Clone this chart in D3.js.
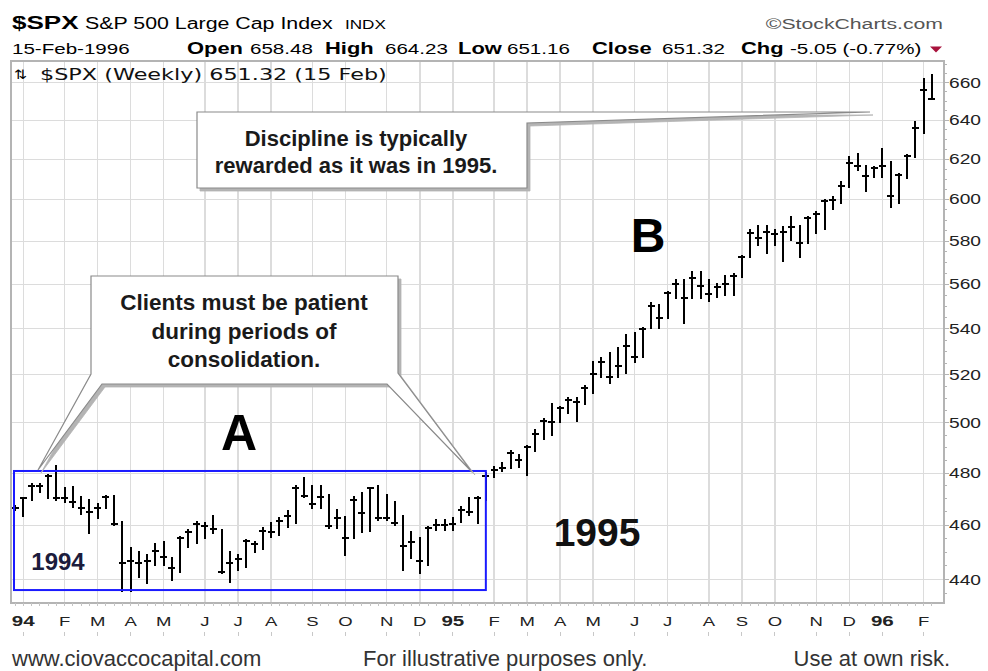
<!DOCTYPE html>
<html>
<head>
<meta charset="utf-8">
<script src="https://cdn.jsdelivr.net/npm/d3@7"></script>
<style>
  html, body { margin: 0; padding: 0; background: #fff; }
  svg { display: block; }
  text { font-family: "Liberation Sans", Arial, sans-serif; }
</style>
</head>
<body>
<div id="chart"></div>
<script>
// weekly $SPX bars, week of 27-Dec-1993 .. week of 12-Feb-1996
const highs = [
  467.3, 470.5, 475.7, 475.7, 479.4, 482.9, 474.1, 474.5, 470.8, 469.5,
  468.2, 471.2, 471.2, 461.3, 451.4, 450.2, 448.9, 452.9, 453.6, 447.7,
  455.7, 458.2, 461.3, 460.7, 463.6, 458.2, 450.2, 448.9, 454.5, 453.6,
  459.1, 460.7, 462.6, 465.3, 474.8, 477.9, 474.8, 474.8, 471.5, 465.8,
  463.2, 470.8, 472.1, 474.3, 474.8, 471.5, 468.7, 463.6, 457.6, 455.1,
  459.5, 462.0, 462.0, 462.6, 467.0, 470.2, 470.8, 480.0, 482.5, 483.8,
  488.8, 487.1, 490.7, 497.3, 501.5, 507.8, 506.7, 510.2, 510.2, 515.3,
  525.6, 527.1, 529.3, 531.5, 537.2, 537.9, 540.1, 551.3, 550.5, 556.5,
  561.8, 561.8, 565.4, 565.4, 561.8, 560.0, 563.6, 564.8, 572.9, 585.2,
  587.3, 587.3, 585.2, 586.8, 591.3, 587.1, 591.3, 594.1, 599.8, 601.4,
  608.7, 620.9, 622.6, 616.5, 615.9, 625.0, 618.7, 612.5, 622.0, 639.2,
  661.8, 664.23
];
const lows = [
  465.8, 463.6, 469.5, 472.7, 470.2, 469.5, 468.9, 467.0, 464.1, 457.0,
  462.6, 466.4, 460.1, 436.1, 436.1, 441.1, 438.7, 445.3, 445.3, 439.9,
  442.9, 452.0, 453.2, 455.1, 457.0, 442.3, 439.3, 443.5, 444.7, 450.2,
  451.2, 455.7, 456.3, 459.5, 460.7, 470.8, 466.4, 466.4, 458.8, 458.8,
  448.9, 455.1, 457.6, 457.9, 462.0, 462.0, 460.1, 443.5, 447.7, 442.3,
  445.3, 458.2, 458.2, 458.2, 461.3, 463.8, 460.7, 469.5, 478.6, 480.6,
  482.0, 482.5, 479.2, 488.8, 493.4, 495.2, 500.2, 503.9, 501.0, 507.8,
  512.2, 519.2, 516.4, 519.2, 520.9, 525.6, 527.8, 540.1, 540.3, 544.5,
  553.5, 542.6, 553.5, 553.5, 552.5, 554.3, 555.0, 555.0, 563.3, 572.6,
  578.1, 574.5, 578.1, 570.8, 580.7, 572.6, 579.2, 583.9, 585.7, 595.2,
  598.5, 606.3, 614.5, 604.3, 610.9, 611.2, 596.5, 598.1, 610.7, 621.3,
  633.6, 651.16
];
const closes = [
  466.4, 470.2, 474.8, 474.8, 478.9, 470.2, 470.5, 468.9, 466.4, 464.9,
  466.6, 470.8, 460.3, 445.9, 446.7, 446.2, 446.7, 450.4, 448.3, 444.3,
  455.3, 457.6, 460.4, 459.8, 458.6, 442.7, 445.9, 447.5, 454.1, 452.9,
  457.9, 457.4, 461.6, 463.6, 474.3, 471.2, 467.9, 470.8, 459.7, 462.6,
  455.1, 469.5, 464.5, 474.1, 462.8, 462.8, 460.7, 452.4, 453.6, 446.7,
  459.1, 460.1, 460.1, 460.3, 465.8, 464.9, 470.5, 478.9, 481.0, 482.0,
  488.0, 485.1, 490.2, 495.6, 501.0, 500.6, 506.0, 509.5, 508.8, 514.3,
  520.3, 525.6, 519.2, 523.8, 532.5, 527.8, 539.8, 550.1, 544.5, 556.1,
  560.0, 553.5, 562.8, 559.3, 555.3, 558.8, 560.0, 563.6, 572.6, 583.6,
  581.2, 584.4, 583.3, 584.4, 586.8, 579.2, 590.8, 592.9, 599.4, 599.8,
  606.6, 617.9, 616.5, 611.5, 615.4, 616.5, 601.7, 612.0, 621.7, 635.8,
  656.0, 651.32
];

// first week of each month (bar index) and its label
const monthTicks = [1, 6, 10, 14, 18, 23, 27, 31, 36, 40, 45, 49, 53,
                    58, 62, 66, 70, 75, 79, 84, 88, 92, 97, 101, 105, 110];
const monthLabels = ["94", "F", "M", "A", "M", "J", "J", "A", "S", "O", "N", "D", "95",
                     "F", "M", "A", "M", "J", "J", "A", "S", "O", "N", "D", "96", "F"];
const priceTicks = [440, 460, 480, 500, 520, 540, 560, 580, 600, 620, 640, 660];

// consolidation box of 1994 (bar index range, price range)
const boxWeeks = [0, 57];
const boxPrices = [436.3, 480.8];

const W = 988, H = 671;
const SX = 1.37; // the stockcharts image is stretched sideways
const frame = { left: 11, right: 944, top: 61, bottom: 603 };

const svg = d3.select("#chart").append("svg")
  .attr("width", W).attr("height", H)
  .attr("viewBox", `0 0 ${W} ${H}`);

const x = d3.scaleLinear().domain([0, 111]).range([15, 931.9]);
const y = d3.scaleLog().domain([440, 660]).range([579.7, 82.6]);

function label(g, px, py, str, size, opt = {}) {
  return g.append("text")
    .attr("transform", `translate(${px},${py}) scale(${opt.sx ?? SX},1)`)
    .attr("text-anchor", opt.anchor || "start")
    .attr("font-size", size)
    .attr("font-weight", opt.weight || "normal")
    .style("font-family", opt.family || null)
    .attr("fill", opt.fill || "#000")
    .text(str);
}

// ---- header
const head = svg.append("g");
label(head, 12, 29, "$SPX", 19, { weight: "bold" });
label(head, 85, 29, "S&P 500 Large Cap Index", 15.6);
label(head, 345, 29, "INDX", 12.5);
label(head, 943, 29, "\u00A9StockCharts.com", 15.5, { anchor: "end", fill: "#555" });

const quote = [
  [12, "15-Feb-1996", false],
  [187, "Open", true], [250, "658.48", false],
  [325, "High", true], [385, "664.23", false],
  [458, "Low", true], [507, "651.16", false],
  [592, "Close", true], [662, "651.32", false],
  [741, "Chg", true], [790, "-5.05 (-0.77%)", false]
];
quote.forEach(([px, s, b]) => label(head, px, 53.5, s, b ? 16 : 15, { weight: b ? "bold" : "normal" }));
head.append("path").attr("d", "M930,46.5 L942,46.5 L936,52.5 Z").attr("fill", "#a8123c");

// ---- grid + frame
const grid = svg.append("g").attr("shape-rendering", "crispEdges");
grid.selectAll("line.v").data(monthTicks).join("line")
  .attr("class", "v")
  .attr("x1", d => x(d)).attr("x2", d => x(d))
  .attr("y1", frame.top).attr("y2", frame.bottom)
  .attr("stroke", "#dcdcdc").attr("stroke-width", 1.5);
grid.selectAll("line.h").data(priceTicks).join("line")
  .attr("class", "h")
  .attr("x1", frame.left).attr("x2", frame.right)
  .attr("y1", d => y(d)).attr("y2", d => y(d))
  .attr("stroke", "#dcdcdc").attr("stroke-width", 1);
grid.append("rect")
  .attr("x", frame.left).attr("y", frame.top)
  .attr("width", frame.right - frame.left).attr("height", frame.bottom - frame.top)
  .attr("fill", "none").attr("stroke", "#b4b4b4").attr("stroke-width", 1.5);

// right axis ticks + labels
const minor = d3.range(435, 671, 5);
grid.selectAll("line.ry").data(minor).join("line")
  .attr("class", "ry")
  .attr("x1", frame.right).attr("x2", d => frame.right + (d % 20 === 0 ? 5 : 3))
  .attr("y1", d => y(d)).attr("y2", d => y(d))
  .attr("stroke", "#b4b4b4");
const yAx = svg.append("g");
priceTicks.forEach(v => label(yAx, 949, y(v) + 5, String(v), 14, { fill: "#222" }));

// bottom axis ticks + labels
grid.selectAll("line.wk").data(d3.range(0, 112)).join("line")
  .attr("class", "wk")
  .attr("x1", d => x(d)).attr("x2", d => x(d))
  .attr("y1", frame.bottom).attr("y2", frame.bottom + 3)
  .attr("stroke", "#c4c4c4");
grid.selectAll("line.mk").data(monthTicks).join("line")
  .attr("class", "mk")
  .attr("x1", d => x(d)).attr("x2", d => x(d))
  .attr("y1", 632).attr("y2", 636)
  .attr("stroke", "#c8c8c8");
const xAx = svg.append("g");
monthTicks.forEach((t, i) => {
  const s = monthLabels[i];
  const isYear = /\d/.test(s);
  label(xAx, x(t), 626, s, isYear ? 15 : 13.5, { anchor: "middle", weight: isYear ? "bold" : "normal", fill: "#222" });
});

// plot title
const ttl = svg.append("g");
label(ttl, 14, 79, "\u21C5", 13, { family: "DejaVu Sans", sx: 1.2 });
label(ttl, 40, 80, "$SPX (Weekly) 651.32 (15 Feb)", 16.3, { family: "DejaVu Sans", fill: "#111" });

// ---- HLC bars
const bars = highs.map((h, i) => ({ i, h, l: lows[i], c: closes[i] }));
const gBars = svg.append("g").attr("stroke", "#000").attr("stroke-width", 2).attr("shape-rendering", "crispEdges");
gBars.selectAll("line.hl").data(bars).join("line")
  .attr("class", "hl")
  .attr("x1", d => x(d.i)).attr("x2", d => x(d.i))
  .attr("y1", d => y(d.h) - 1).attr("y2", d => y(d.l) + 1);
gBars.selectAll("line.cl").data(bars).join("line")
  .attr("class", "cl")
  .attr("x1", d => x(d.i) - 3.5).attr("x2", d => x(d.i) + 3.5)
  .attr("y1", d => y(d.c)).attr("y2", d => y(d.c));

// ---- 1994 box
svg.append("rect")
  .attr("x", x(boxWeeks[0]) - 1).attr("y", y(boxPrices[1]))
  .attr("width", x(boxWeeks[1]) - x(boxWeeks[0]) + 1)
  .attr("height", y(boxPrices[0]) - y(boxPrices[1]))
  .attr("fill", "none").attr("stroke", "#1a1aff").attr("stroke-width", 2);

// ---- callouts
const ann = svg.append("g");
const calloutA = [[91, 276], [398, 276], [398, 373], [472, 472], [387, 384], [102, 384], [38, 470], [91, 374]];
const calloutB = [[197, 112], [870, 112], [527, 123], [527, 188], [197, 188]];
const line = d3.line();
[calloutA, calloutB].forEach(pts => {
  ann.append("path").attr("d", line(pts) + "Z")
    .attr("transform", "translate(3,3)")
    .attr("fill", "#b4b4b4").attr("stroke", "#b4b4b4").attr("stroke-width", 0.8);
  ann.append("path").attr("d", line(pts) + "Z")
    .attr("fill", "#fff").attr("stroke", "#8a8a8a").attr("stroke-width", 1.2);
});

const txtA = ["Clients must be patient", "during periods of", "consolidation."];
txtA.forEach((s, i) => label(ann, 244, 310 + i * 28.5, s, 22.5, { anchor: "middle", weight: "bold", sx: 1, fill: "#1a1a1a" }));
const txtB = ["Discipline is typically", "rewarded as it was in 1995."];
txtB.forEach((s, i) => label(ann, 356, 146 + i * 27, s, 22, { anchor: "middle", weight: "bold", sx: 1, fill: "#1a1a1a" }));

label(ann, 239, 450, "A", 50, { anchor: "middle", weight: "bold", sx: 1 });
label(ann, 648, 252, "B", 48, { anchor: "middle", weight: "bold", sx: 1 });
label(ann, 58, 570, "1994", 24, { anchor: "middle", weight: "bold", sx: 1, fill: "#1c1c3c" });
label(ann, 597, 546, "1995", 39, { anchor: "middle", weight: "bold", sx: 1, fill: "#111" });

// ---- footer
const foot = svg.append("g");
label(foot, 12, 666, "www.ciovaccocapital.com", 22, { sx: 1, fill: "#333" });
label(foot, 363, 666, "For illustrative purposes only.", 22, { sx: 1, fill: "#333" });
label(foot, 950, 666, "Use at own risk.", 22, { sx: 1, anchor: "end", fill: "#333" });
</script>
</body>
</html>
